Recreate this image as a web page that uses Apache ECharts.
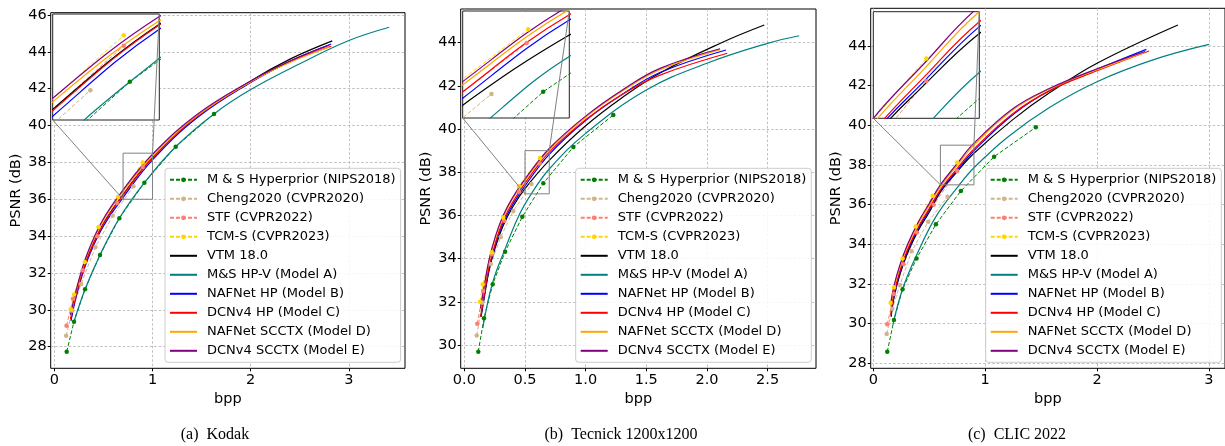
<!DOCTYPE html>
<html><head><meta charset="utf-8">
<script src="https://cdn.jsdelivr.net/npm/echarts@6/dist/echarts.min.js"></script>
<style>html,body{margin:0;padding:0;background:#fff}#c{width:1225px;height:446px}</style>
</head><body><div id="c"></div>
<script>
// ---------------- DATA ----------------
const seriesNames = ['M & S Hyperprior (NIPS2018)','Cheng2020 (CVPR2020)','STF (CVPR2022)','TCM-S (CVPR2023)','VTM 18.0','M&S HP-V (Model A)','NAFNet HP (Model B)','DCNv4 HP (Model C)','NAFNet SCCTX (Model D)','DCNv4 SCCTX (Model E)'];
const panelCaptions = ['(a)  Kodak','(b)  Tecnick 1200x1200','(c)  CLIC 2022'];

// Kodak
const kodakHyper = [[0.126,27.73],[0.2,29.36],[0.313,31.12],[0.465,32.98],[0.662,34.97],[0.917,36.9],[1.236,38.85],[1.626,40.63]];
const kodakCheng = [[0.12,28.6],[0.184,29.97],[0.272,31.4],[0.418,33.4],[0.594,35.1],[0.806,36.7]];
const kodakSTF = [[0.124,29.14],[0.19,30.6],[0.29,32.15],[0.44,34.0],[0.64,35.8],[0.9,37.75]];
const kodakTCM = [[0.167,30.03],[0.2,30.84],[0.31,32.6],[0.45,34.5],[0.65,36.12],[0.9,38.0]];
const kodakVTM = [[0.17,29.5],[0.225,30.88],[0.33,32.73],[0.49,34.59],[0.7,36.25],[1.0,38.26],[1.46,40.53],[2.0,42.42],[2.4,43.6],[2.83,44.59]];
const kodakModelA = [[0.2,29.36],[0.313,31.12],[0.465,32.98],[0.662,34.97],[0.917,36.9],[1.236,38.85],[1.626,40.63],[2.0,41.95],[2.5,43.35],[3.0,44.61],[3.41,45.33]];
const kodakModelB = [[0.17,29.4],[0.225,30.77],[0.33,32.6],[0.49,34.45],[0.7,36.09],[1.0,38.14],[1.46,40.45],[2.0,42.34],[2.4,43.48],[2.82,44.42]];
const kodakModelC = [[0.165,29.48],[0.225,30.87],[0.33,32.71],[0.49,34.57],[0.7,36.22],[1.0,38.24],[1.46,40.51],[2.0,42.37],[2.4,43.45],[2.82,44.3]];
const kodakModelD = [[0.165,29.65],[0.225,31.05],[0.33,32.9],[0.49,34.77],[0.7,36.43],[1.0,38.34],[1.46,40.55],[2.0,42.37],[2.4,43.43],[2.8,44.26]];
const kodakModelE = [[0.165,29.72],[0.225,31.12],[0.33,32.98],[0.49,34.85],[0.7,36.51],[1.0,38.44],[1.46,40.63],[2.0,42.42],[2.4,43.5],[2.8,44.36]];

// Tecnick 1200x1200
const tecHyper = [[0.115,29.69],[0.162,31.24],[0.234,32.81],[0.336,34.32],[0.478,35.94],[0.651,37.49],[0.899,39.17],[1.228,40.65]];
const tecCheng = [[0.102,30.44],[0.148,31.95],[0.218,33.75],[0.3,35.0],[0.404,36.21],[0.554,37.45]];
const tecSTF = [[0.107,30.98],[0.155,32.5],[0.228,34.2],[0.33,35.75],[0.45,37.1],[0.62,38.4]];
const tecTCM = [[0.129,32.0],[0.152,32.81],[0.226,34.3],[0.32,35.9],[0.45,37.35],[0.623,38.66]];
const tecVTM = [[0.138,31.3],[0.16,32.05],[0.206,33.5],[0.26,34.6],[0.32,35.52],[0.4,36.4],[0.5,37.24],[0.7,38.55],[1.0,40.15],[1.3,41.45],[1.613,42.6],[2.12,44.0],[2.473,44.82]];
const tecModelA = [[0.152,30.78],[0.231,32.85],[0.336,34.45],[0.45,36.0],[0.552,37.0],[0.7,38.15],[1.0,39.8],[1.5,41.81],[2.0,43.05],[2.5,43.97],[2.76,44.32]];
const tecModelB = [[0.137,31.35],[0.16,32.15],[0.206,33.6],[0.26,34.72],[0.32,35.65],[0.4,36.52],[0.5,37.37],[0.7,38.83],[1.0,40.4],[1.3,41.6],[1.613,42.62],[2.157,43.66]];
const tecModelC = [[0.135,31.3],[0.16,32.2],[0.206,33.65],[0.26,34.8],[0.32,35.75],[0.4,36.63],[0.5,37.49],[0.7,38.93],[1.0,40.43],[1.3,41.6],[1.613,42.5],[2.168,43.51]];
const tecModelD = [[0.133,31.65],[0.16,32.55],[0.206,33.95],[0.26,35.05],[0.32,35.95],[0.4,36.8],[0.5,37.62],[0.7,39.03],[1.0,40.55],[1.3,41.75],[1.613,42.75],[2.11,43.68]];
const tecModelE = [[0.133,31.7],[0.16,32.6],[0.206,34.0],[0.26,35.1],[0.32,36.0],[0.4,36.85],[0.5,37.68],[0.7,39.1],[1.0,40.6],[1.3,41.8],[1.613,42.81],[2.108,43.72]];

// CLIC 2022
const clicHyper = [[0.125,28.58],[0.185,30.18],[0.262,31.73],[0.387,33.29],[0.56,35.01],[0.783,36.69],[1.08,38.42],[1.453,39.9]];
const clicCheng = [[0.12,29.48],[0.17,30.75],[0.238,31.95],[0.343,33.65],[0.491,35.14],[0.664,36.4]];
const clicSTF = [[0.125,29.97],[0.185,31.5],[0.27,33.0],[0.39,34.6],[0.54,36.0],[0.75,37.7]];
const clicTCM = [[0.155,31.06],[0.185,31.83],[0.262,33.29],[0.38,34.9],[0.53,36.45],[0.75,38.12]];
const clicVTM = [[0.16,30.35],[0.185,31.3],[0.24,32.52],[0.307,33.58],[0.4,34.68],[0.5,35.62],[0.6,36.63],[0.74,37.6],[0.9,38.59],[1.25,40.3],[1.578,41.65],[2.0,43.13],[2.723,45.06]];
const clicModelA = [[0.175,29.95],[0.262,31.75],[0.387,33.45],[0.56,35.4],[0.77,37.0],[0.9,37.86],[1.2,39.4],[1.578,40.91],[2.0,42.2],[2.5,43.3],[3.0,44.08]];
const clicModelB = [[0.16,30.45],[0.185,31.4],[0.24,32.62],[0.307,33.68],[0.4,34.78],[0.5,35.73],[0.6,36.7],[0.74,37.67],[0.9,38.72],[1.25,40.55],[1.578,41.76],[2.0,42.82],[2.441,43.83]];
const clicModelC = [[0.157,30.45],[0.185,31.5],[0.24,32.7],[0.307,33.75],[0.4,34.85],[0.5,35.8],[0.6,36.75],[0.74,37.75],[0.9,38.81],[1.25,40.6],[1.578,41.75],[2.0,42.75],[2.465,43.75]];
const clicModelD = [[0.155,30.87],[0.185,31.82],[0.24,32.91],[0.307,33.91],[0.4,35.0],[0.5,35.95],[0.6,36.9],[0.74,37.9],[0.9,39.0],[1.25,40.78],[1.578,41.83],[2.0,42.8],[2.43,43.68]];
const clicModelE = [[0.155,30.95],[0.185,31.9],[0.24,33.0],[0.307,34.0],[0.4,35.1],[0.5,36.05],[0.6,37.0],[0.74,38.0],[0.9,39.1],[1.25,40.85],[1.578,41.87],[2.0,42.85],[2.43,43.72]];

// Tick labels
const kodakXTicks = [0,1,2,3];
const kodakYTicks = [28,30,32,34,36,38,40,42,44,46];
const tecXTicks = [0,0.5,1,1.5,2,2.5];
const tecYTicks = [30,32,34,36,38,40,42,44];
const clicXTicks = [0,1,2,3];
const clicYTicks = [28,30,32,34,36,38,40,42,44];

// Zoomed inset windows (data ranges)
const kodakZoom = {x:[0.7,1.0], y:[36,38.5]};
const tecZoom = {x:[0.5,0.7], y:[37,39]};
const clicZoom = {x:[0.6,0.9], y:[37,39]};

// ---------------- BUILD ----------------
const colors = ['#008000','#D2B48C','#FA8072','#FFD700','#000000','#008080','#0000FF','#FF0000','#FFA500','#800080'];
const FONT = 'DejaVu Sans';
const panels = [
  {series:[kodakHyper,kodakCheng,kodakSTF,kodakTCM,kodakVTM,kodakModelA,kodakModelB,kodakModelC,kodakModelD,kodakModelE],
   xTicks:kodakXTicks, yTicks:kodakYTicks, xDec:0, zoom:kodakZoom,
   grid:{left:50.7, top:12.7, width:354.3, height:355.6}, xr:[-0.037,3.571], yr:[26.83,46.12],
   inset:{left:52.7, top:14, width:106.6, height:106}, legendLeft:165, capX:215},
  {series:[tecHyper,tecCheng,tecSTF,tecTCM,tecVTM,tecModelA,tecModelB,tecModelC,tecModelD,tecModelE],
   xTicks:tecXTicks, yTicks:tecYTicks, xDec:1, zoom:tecZoom,
   grid:{left:460.7, top:9, width:355.3, height:359.3}, xr:[-0.03,2.899], yr:[28.92,45.56],
   inset:{left:462.7, top:11, width:106.6, height:107}, legendLeft:575.7, capX:621},
  {series:[clicHyper,clicCheng,clicSTF,clicTCM,clicVTM,clicModelA,clicModelB,clicModelC,clicModelD,clicModelE],
   xTicks:clicXTicks, yTicks:clicYTicks, xDec:0, zoom:clicZoom,
   grid:{left:870.7, top:8.3, width:354.7, height:360}, xr:[-0.023,3.144], yr:[27.75,45.9],
   inset:{left:873.3, top:11.7, width:106, height:106.6}, legendLeft:985.7, capX:1017}
];

const grids = [], xAxes = [], yAxes = [], series = [], legends = [];
const splitStyle = {show:true, lineStyle:{color:'#b0b0b0', width:0.8, type:[2.5,2]}};
panels.forEach((p) => {
  grids.push(Object.assign({show:true, borderColor:'#000', borderWidth:1, backgroundColor:'transparent', containLabel:false}, p.grid));
});
panels.forEach((p) => {
  grids.push(Object.assign({show:true, borderColor:'#222', borderWidth:1, backgroundColor:'#ffffff', z:3, containLabel:false}, p.inset));
});
panels.forEach((p, i) => {
  xAxes.push({type:'value', gridIndex:i, min:p.xr[0], max:p.xr[1], name:'bpp', nameLocation:'middle', nameGap:20,
    nameTextStyle:{fontFamily:FONT, fontSize:14.5, color:'#000'},
    axisLine:{show:false, onZero:false},
    axisTick:{show:true, inside:false, length:3, customValues:p.xTicks, lineStyle:{color:'#000'}},
    axisLabel:{customValues:p.xTicks, margin:4, fontFamily:FONT, fontSize:14.5, color:'#000', formatter:(v)=>Number(v).toFixed(p.xDec)},
    splitLine:splitStyle});
  yAxes.push({type:'value', gridIndex:i, min:p.yr[0], max:p.yr[1], name:'PSNR (dB)', nameLocation:'middle', nameGap:27,
    nameTextStyle:{fontFamily:FONT, fontSize:14.5, color:'#000'},
    axisLine:{show:false, onZero:false},
    axisTick:{show:true, inside:false, length:3, customValues:p.yTicks, lineStyle:{color:'#000'}},
    axisLabel:{customValues:p.yTicks, margin:4, fontFamily:FONT, fontSize:14.5, color:'#000', formatter:(v)=>String(Math.round(v))},
    splitLine:splitStyle});
});
panels.forEach((p, i) => {
  xAxes.push({type:'value', gridIndex:i+3, min:p.zoom.x[0], max:p.zoom.x[1], show:false, axisLine:{onZero:false}, splitLine:{show:false}});
  yAxes.push({type:'value', gridIndex:i+3, min:p.zoom.y[0], max:p.zoom.y[1], show:false, axisLine:{onZero:false}, splitLine:{show:false}});
});

function mkSeries(data, k, axisIdx, inset) {
  const dashed = k < 4;
  const s = {type:'line', name:seriesNames[k], xAxisIndex:axisIdx, yAxisIndex:axisIdx, data:data,
    animation:false, silent:true, clip:true, z: inset ? 5 : 2,
    lineStyle:{color:colors[k], width: dashed ? 1 : 1.2, type: dashed ? [4,2] : 'solid'},
    itemStyle:{color:colors[k]}};
  if (dashed) { s.symbol = 'circle'; s.symbolSize = 4.5; s.showSymbol = true; }
  else { s.symbol = 'none'; s.smooth = 0.4; }
  return s;
}
panels.forEach((p, i) => { p.series.forEach((d, k) => series.push(mkSeries(d, k, i, false))); });
panels.forEach((p, i) => { p.series.forEach((d, k) => series.push(mkSeries(d, k, i+3, true))); });

const legendItems = seriesNames.map((nm, k) => k < 4 ? {name:nm} : {name:nm, itemStyle:{opacity:0, borderWidth:0}});
panels.forEach((p) => {
  legends.push({left:p.legendLeft, top:168.3, orient:'vertical', itemGap:0, itemWidth:27, itemHeight:6,
    padding:[2,5,2,4], borderColor:'#cccccc', borderWidth:1, borderRadius:3, backgroundColor:'rgba(255,255,255,0.85)',
    selectedMode:false, z:8,
    textStyle:{fontFamily:FONT, fontSize:13, color:'#000', lineHeight:19, padding:[0,0,0,5]},
    data:legendItems});
});

const chart = echarts.init(document.getElementById('c'), null, {renderer:'canvas'});
chart.setOption({animation:false, backgroundColor:'#ffffff', grid:grids, xAxis:xAxes, yAxis:yAxes, legend:legends, series:series});

// overlays: zoom rectangles, connector lines, captions
const gfx = [];
panels.forEach((p, i) => {
  const m = (pt) => chart.convertToPixel({gridIndex:i}, pt);
  const n = (pt) => chart.convertToPixel({gridIndex:i+3}, pt);
  const z = p.zoom;
  const r0 = m([z.x[0], z.y[1]]), r1 = m([z.x[1], z.y[0]]);
  gfx.push({type:'rect', shape:{x:r0[0], y:r0[1], width:r1[0]-r0[0], height:r1[1]-r0[1]}, style:{fill:'none', stroke:'#808080', lineWidth:1}, z:6});
  const a = n([z.x[0], z.y[0]]), b = m([z.x[0], z.y[0]]);
  gfx.push({type:'line', shape:{x1:a[0], y1:a[1], x2:b[0], y2:b[1]}, style:{stroke:'#808080', lineWidth:1}, z:20});
  const c = n([z.x[1], z.y[1]]), d = m([z.x[1], z.y[1]]);
  gfx.push({type:'line', shape:{x1:c[0], y1:c[1], x2:d[0], y2:d[1]}, style:{stroke:'#808080', lineWidth:1}, z:20});
  gfx.push({type:'text', x:p.capX, y:435, z:20, style:{text:panelCaptions[i], font:'16px "Liberation Serif"', fill:'#000', align:'center', verticalAlign:'middle'}});
});
chart.setOption({graphic:gfx});
</script>
</body></html>
